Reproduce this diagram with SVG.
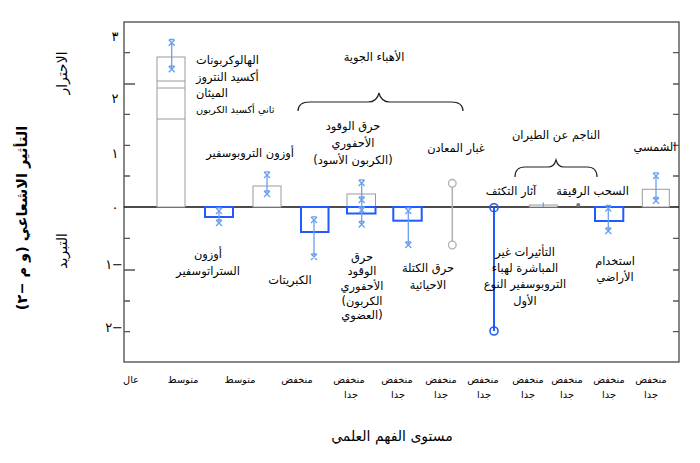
<svg xmlns="http://www.w3.org/2000/svg" xmlns:xlink="http://www.w3.org/1999/xlink" width="700" height="463" viewBox="0 0 700 463">
<style>
text{font-family:"DejaVu Sans","Noto Sans",sans-serif;fill:#000;text-anchor:middle}
.l{font-size:11.4px}
.s{font-size:9.8px}
.t{font-size:13px}
.g{fill:#fff;stroke:#9a9a9a;stroke-width:1}
.b{fill:none;stroke:#1f5bff;stroke-width:2}
.e{stroke:#6a9ff0;stroke-width:1.3;fill:none}
.tk{stroke:#555;stroke-width:1.3}
.br{fill:none;stroke:#222;stroke-width:1.2}
</style>
<defs>
<path id="xm" d="M-3,-3L3,3M-3,3L3,-3M-2.5,-3.2H2.5" class="e"/>
</defs>
<rect width="700" height="463" fill="#fff"/>
<g id="axes">
<rect x="124" y="22" width="555" height="340" fill="none" stroke="#555" stroke-width="1.4"/>
<path class="tk" d="M124,52.7h6M124,84h11M124,114.3h6M124,145.3h6M124,176h6M124,238.3h6M124,270h11M124,301h6M124,331.7h6"/>
<path class="tk" d="M679,52.7h-6M679,84h-6M679,114.3h-6M679,145.3h-6M679,176h-6M679,238.3h-6M679,270h-6M679,301h-6M679,331.7h-6"/>
<line x1="124" y1="207" x2="679" y2="207" stroke="#111" stroke-width="1.3"/>
<g class="t">
<text x="115" y="41">٣</text>
<text x="115" y="103">٢</text>
<text x="115" y="158">١</text>
<text x="115" y="212">٠</text>
<text x="123" y="269" style="text-anchor:end;unicode-bidi:bidi-override;direction:ltr">١−</text>
<text x="123" y="332" style="text-anchor:end;unicode-bidi:bidi-override;direction:ltr">٢−</text>
</g>
<text transform="translate(62,73) rotate(-90)" y="5" style="font-size:14px">الاحترار</text>
<text transform="translate(62,251) rotate(-90)" y="5" style="font-size:14px">التبريد</text>
<text transform="translate(22,218) rotate(-90)" y="5" style="font-size:14.5px;font-weight:bold" direction="rtl">التأثير الاشعاعي (و م −٢)</text>
<text x="392" y="441" style="font-size:14px">مستوى الفهم العلمي</text>
</g>
<g id="ghg">
<rect class="g" x="157" y="57" width="28" height="150"/>
<path class="g" d="M157,81H185M157,88H185M157,119H185"/>
<line class="e" x1="171.7" y1="42.7" x2="171.7" y2="69.3"/>
<use xlink:href="#xm" x="171.7" y="42.7"/><use xlink:href="#xm" x="171.7" y="69.3"/>
<g class="l">
<text x="196" y="64" style="text-anchor:start">الهالوكربونات</text>
<text x="196" y="81" style="text-anchor:start">أكسيد النتروز</text>
<text x="196" y="97" style="text-anchor:start">الميثان</text>
<text x="196" y="113" style="text-anchor:start;font-size:9.8px">ثاني أكسيد الكربون</text>
</g>
</g>
<g id="strat-ozone">
<rect class="b" x="205" y="207" width="28" height="10"/>
<line class="e" x1="219" y1="211" x2="219" y2="223"/>
<use xlink:href="#xm" x="219" y="211"/><use xlink:href="#xm" x="219" y="223"/>
<text class="l" x="208" y="258">أوزون</text>
<text class="l" x="208" y="275">الستراتوسفير</text>
</g>
<g id="trop-ozone">
<rect class="g" x="253" y="186" width="28" height="21"/>
<line class="e" x1="267" y1="175" x2="267" y2="194"/>
<use xlink:href="#xm" x="267" y="175"/><use xlink:href="#xm" x="267" y="194"/>
<text class="l" x="250" y="157">أوزون التروبوسفير</text>
</g>
<g id="sulphate">
<rect class="b" x="301" y="207" width="27.5" height="25"/>
<line class="e" x1="314" y1="220" x2="314" y2="257"/>
<use xlink:href="#xm" x="314" y="220"/><use xlink:href="#xm" x="314" y="257"/>
<text class="l" x="290" y="284">الكبريتات</text>
</g>
<g id="fossil-bc">
<rect class="g" x="347" y="194" width="28.5" height="13"/>
<text class="l" x="353" y="130">حرق الوقود</text>
<text class="l" x="353" y="147">الأحفوري</text>
<text class="l" x="353" y="164">(الكربون الأسود)</text>
</g>
<g id="fossil-oc">
<rect class="b" x="347" y="207" width="28.5" height="6.5"/>
<line class="e" x1="361.7" y1="183" x2="361.7" y2="224.5"/>
<use xlink:href="#xm" x="361.7" y="183"/><use xlink:href="#xm" x="361.7" y="200"/><use xlink:href="#xm" x="361.7" y="210"/><use xlink:href="#xm" x="361.7" y="224.5"/>
<text class="l" x="362" y="261">حرق</text>
<text class="l" x="362" y="275">الوقود</text>
<text class="l" x="362" y="290">الأحفوري</text>
<text class="l" x="362" y="305">(الكربون</text>
<text class="l" x="362" y="319">العضوي)</text>
</g>
<g id="biomass">
<rect class="b" x="393.3" y="207" width="28.4" height="13.7"/>
<line class="e" x1="408.3" y1="211" x2="408.3" y2="245"/>
<use xlink:href="#xm" x="408.3" y="211"/><use xlink:href="#xm" x="408.3" y="245"/>
<text class="l" x="428" y="272">حرق الكتلة</text>
<text class="l" x="428" y="289">الاحيائية</text>
</g>
<g id="mineral-dust">
<line x1="452.3" y1="183.3" x2="452.3" y2="245" stroke="#b0b0b0" stroke-width="1.5"/>
<circle cx="452.3" cy="183.3" r="3.8" fill="#fff" stroke="#b0b0b0" stroke-width="1.3"/>
<circle cx="452.3" cy="245" r="3.8" fill="#fff" stroke="#b0b0b0" stroke-width="1.3"/>
<text class="l" x="456" y="152">غبار المعادن</text>
</g>
<g id="aerosol-indirect">
<line x1="494" y1="207.7" x2="494" y2="331" stroke="#1f5bff" stroke-width="2"/>
<circle cx="494" cy="207.7" r="4" fill="none" stroke="#1f5bff" stroke-width="1.6"/>
<circle cx="494" cy="331" r="4" fill="none" stroke="#1f5bff" stroke-width="1.6"/>
<text class="l" x="525" y="256">التأثيرات غير</text>
<text class="l" x="525" y="272">المباشرة لهباء</text>
<text class="l" x="525" y="288">التروبوسفير النوع</text>
<text class="l" x="525" y="305">الأول</text>
</g>
<g id="contrails">
<rect class="g" x="529.3" y="205" width="28" height="2"/>
<line class="e" x1="543.3" y1="202.5" x2="543.3" y2="207"/>
<text class="l" x="511" y="195">آثار التكثف</text>
</g>
<g id="cirrus">
<circle cx="578.3" cy="205" r="2" fill="#777"/>
<text class="l" x="592.5" y="195">السحب الرقيقة</text>
</g>
<g id="land-use">
<rect class="b" x="595" y="207" width="28.3" height="14"/>
<line class="e" x1="608.3" y1="208.5" x2="608.3" y2="231"/>
<use xlink:href="#xm" x="608.3" y="208.5"/><use xlink:href="#xm" x="608.3" y="231"/>
<text class="l" x="615" y="265">استخدام</text>
<text class="l" x="615" y="281">الأراضي</text>
</g>
<g id="solar">
<rect class="g" x="642.3" y="189.3" width="27" height="17.7"/>
<line class="e" x1="656" y1="176" x2="656" y2="200.7"/>
<use xlink:href="#xm" x="656" y="176"/><use xlink:href="#xm" x="656" y="200.7"/>
<text class="l" x="655" y="151">الشمسي</text>
</g>
<g id="connectors">
<path class="br" d="M298,111Q298,102 310,102H368Q377,102 379,93Q381,102 390,102H451Q463,102 463,111"/>
<path class="br" d="M515,177Q515,167 525,167H548Q554,167 556,160Q558,167 564,167H587Q597,167 597,177"/>
<text class="l" x="374" y="61">الأهباء الجوية</text>
<text class="l" x="556" y="139">الناجم عن الطيران</text>
</g>
<g id="x-categories" class="s">
<text x="131" y="383">عال</text>
<text x="183" y="383">متوسط</text>
<text x="240" y="383">متوسط</text>
<text x="297" y="383">منخفض</text>
<text x="349" y="383">منخفض</text><text x="351" y="398">جدا</text>
<text x="397" y="383">منخفض</text><text x="398" y="398">جدا</text>
<text x="441" y="383">منخفض</text><text x="441" y="398">جدا</text>
<text x="483" y="383">منخفض</text><text x="484" y="398">جدا</text>
<text x="528" y="383">منخفض</text><text x="528" y="398">جدا</text>
<text x="567" y="383">منخفض</text><text x="567" y="398">جدا</text>
<text x="609" y="383">منخفض</text><text x="609" y="398">جدا</text>
<text x="651" y="383">منخفض</text><text x="651" y="398">جدا</text>
</g>
</svg>
